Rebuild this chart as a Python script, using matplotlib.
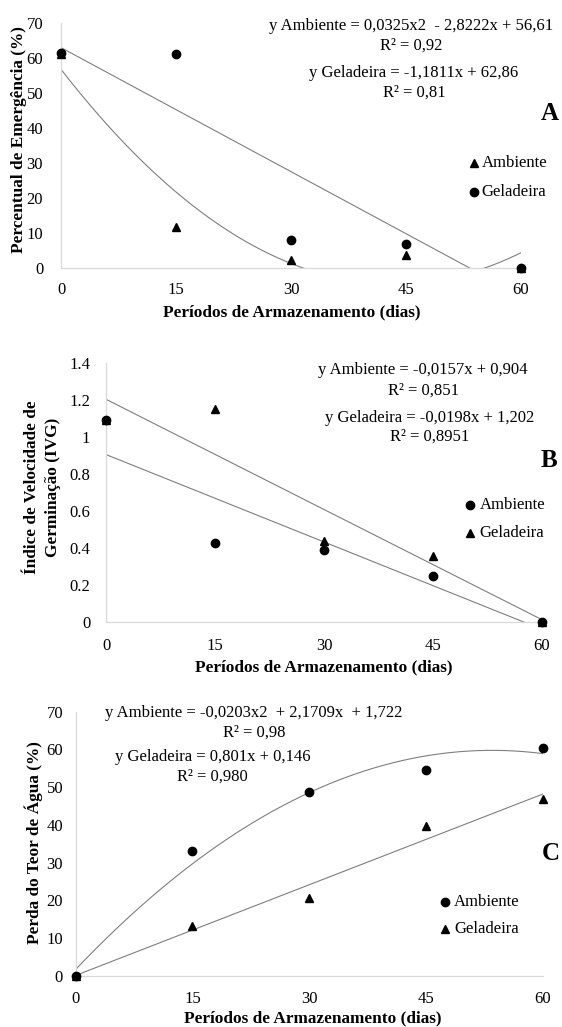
import numpy as np
import matplotlib
matplotlib.use("Agg")
import matplotlib.pyplot as plt
from matplotlib.ticker import FuncFormatter

plt.rcParams['font.family'] = ['Liberation Serif', 'DejaVu Serif']

dias = [0, 15, 30, 45, 60]

# Panel A - Percentual de Emergência (%)
a_ambiente = [61.0, 11.7, 2.3, 3.6, 0.0]
a_geladeira = [61.3, 61.1, 7.9, 6.7, 0.0]
a_amb_coef = [0.0325, -2.8222, 56.61]
a_gel_coef = [-1.1811, 62.86]

# Panel B - IVG
b_ambiente = [1.09, 0.43, 0.39, 0.25, 0.0]
b_geladeira = [1.09, 1.15, 0.44, 0.36, 0.0]
b_amb_coef = [-0.0157, 0.904]
b_gel_coef = [-0.0198, 1.202]

# Panel C - Perda do Teor de Água (%)
c_ambiente = [0.0, 33.0, 48.7, 54.5, 60.5]
c_geladeira = [0.0, 13.3, 20.7, 39.8, 46.8]
c_amb_coef = [-0.0203, 2.1709, 1.722]
c_gel_coef = [0.801, 0.146]

W, H = 562, 1027
fig = plt.figure(figsize=(W / 100, H / 100), dpi=100)

def ax_px(left, top, right, bottom):
    return fig.add_axes([left / W, 1 - bottom / H, (right - left) / W, (bottom - top) / H])

def fx(px):
    return px / W

def fy(py):
    return 1 - py / H

LC = '#7f7f7f'
SP = '#d9d9d9'
FS = 12
FSB = 12.4
MS = 6
xs = np.linspace(0, 60, 300)

def style(ax, ymax, ystep, ypad, xpad):
    ax.set_xlim(0, 60)
    ax.set_ylim(0, ymax)
    ax.set_xticks(dias)
    ax.set_yticks(np.arange(0, ymax + ystep / 2, ystep))
    for s in ['top', 'right']:
        ax.spines[s].set_visible(False)
    for s in ['left', 'bottom']:
        ax.spines[s].set_color(SP)
        ax.spines[s].set_linewidth(0.9)
    ax.tick_params(length=0, labelsize=FS)
    ax.tick_params(axis='y', pad=ypad)
    ax.tick_params(axis='x', pad=xpad)
    ax.set_facecolor('none')

def mark(x, y, m):
    fig.lines.append(plt.Line2D([fx(x)], [fy(y)], marker=m, color='black', ms=MS,
                                transform=fig.transFigure))

# ---------- Panel A ----------
ax = ax_px(61.2, 22.7, 521, 267.7)
style(ax, 70, 10, 13, 10)
ax.plot(xs, np.polyval(a_amb_coef, xs), color=LC, lw=0.8)
ax.plot(xs, np.polyval(a_gel_coef, xs), color=LC, lw=0.8)
ax.plot(dias, a_ambiente, '^', color='black', ms=MS, clip_on=False, zorder=5)
ax.plot(dias, a_geladeira, 'o', color='black', ms=MS, clip_on=False, zorder=5)
fig.text(fx(411), fy(26), 'y Ambiente = 0,0325x2  - 2,8222x + 56,61', ha='center', va='center', fontsize=FS)
fig.text(fx(411), fy(46), 'R² = 0,92', ha='center', va='center', fontsize=FS)
fig.text(fx(414), fy(73), 'y Geladeira = -1,1811x + 62,86', ha='center', va='center', fontsize=FS)
fig.text(fx(414), fy(93), 'R² = 0,81', ha='center', va='center', fontsize=FS)
fig.text(fx(550), fy(113), 'A', ha='center', va='center', fontsize=18, fontweight='bold')
mark(473.5, 163, '^')
mark(473.5, 192, 'o')
fig.text(fx(481.5), fy(163), 'Ambiente', ha='left', va='center', fontsize=FS)
fig.text(fx(481.5), fy(192), 'Geladeira', ha='left', va='center', fontsize=FS)
fig.text(fx(292), fy(312), 'Períodos de Armazenamento (dias)', ha='center', va='center', fontsize=FSB, fontweight='bold')
fig.text(fx(19), fy(140), 'Percentual de Emergência (%)', ha='center', va='center', fontsize=FSB, fontweight='bold', rotation=90)

# ---------- Panel B ----------
ax = ax_px(106.3, 362.7, 542, 622.3)
style(ax, 1.4, 0.2, 11.5, 11)
ax.yaxis.set_major_formatter(FuncFormatter(lambda v, p: '%g' % round(v, 2)))
ax.plot(xs, np.polyval(b_amb_coef, xs), color=LC, lw=0.8)
ax.plot(xs, np.polyval(b_gel_coef, xs), color=LC, lw=0.8)
ax.plot(dias, b_geladeira, '^', color='black', ms=MS, clip_on=False, zorder=5)
ax.plot(dias, b_ambiente, 'o', color='black', ms=MS, clip_on=False, zorder=5)
fig.text(fx(423), fy(370), 'y Ambiente = -0,0157x + 0,904', ha='center', va='center', fontsize=FS)
fig.text(fx(423), fy(391), 'R² = 0,851', ha='center', va='center', fontsize=FS)
fig.text(fx(430), fy(418), 'y Geladeira = -0,0198x + 1,202', ha='center', va='center', fontsize=FS)
fig.text(fx(430), fy(437), 'R² = 0,8951', ha='center', va='center', fontsize=FS)
fig.text(fx(549), fy(460), 'B', ha='center', va='center', fontsize=18, fontweight='bold')
mark(470, 505, 'o')
mark(470, 533, '^')
fig.text(fx(479.5), fy(505), 'Ambiente', ha='left', va='center', fontsize=FS)
fig.text(fx(479.5), fy(533), 'Geladeira', ha='left', va='center', fontsize=FS)
fig.text(fx(324), fy(667), 'Períodos de Armazenamento (dias)', ha='center', va='center', fontsize=FSB, fontweight='bold')
fig.text(fx(42.5), fy(487), 'Índice de Velocidade de\nGerminação (IVG)', ha='center', va='center', fontsize=FSB, fontweight='bold', rotation=90, linespacing=1.35)

# ---------- Panel C ----------
ax = ax_px(75.6, 711.7, 543, 976)
style(ax, 70, 10, 9, 11)
ax.plot(xs, np.polyval(c_amb_coef, xs), color=LC, lw=0.8)
ax.plot(xs, np.polyval(c_gel_coef, xs), color=LC, lw=0.8)
ax.plot(dias, c_geladeira, '^', color='black', ms=MS, clip_on=False, zorder=5)
ax.plot(dias, c_ambiente, 'o', color='black', ms=MS, clip_on=False, zorder=5)
fig.text(fx(254), fy(713), 'y Ambiente = -0,0203x2  + 2,1709x  + 1,722', ha='center', va='center', fontsize=FS)
fig.text(fx(254), fy(733), 'R² = 0,98', ha='center', va='center', fontsize=FS)
fig.text(fx(212.5), fy(757), 'y Geladeira = 0,801x + 0,146', ha='center', va='center', fontsize=FS)
fig.text(fx(212.5), fy(777), 'R² = 0,980', ha='center', va='center', fontsize=FS)
fig.text(fx(551), fy(853), 'C', ha='center', va='center', fontsize=18, fontweight='bold')
mark(445, 901.5, 'o')
mark(445, 929, '^')
fig.text(fx(454), fy(901.5), 'Ambiente', ha='left', va='center', fontsize=FS)
fig.text(fx(454), fy(929), 'Geladeira', ha='left', va='center', fontsize=FS)
fig.text(fx(313), fy(1018), 'Períodos de Armazenamento (dias)', ha='center', va='center', fontsize=FSB, fontweight='bold')
fig.text(fx(34), fy(843), 'Perda do Teor de Água (%)', ha='center', va='center', fontsize=FSB, fontweight='bold', rotation=90)

fig.savefig('out.png', dpi=100, facecolor='white')
